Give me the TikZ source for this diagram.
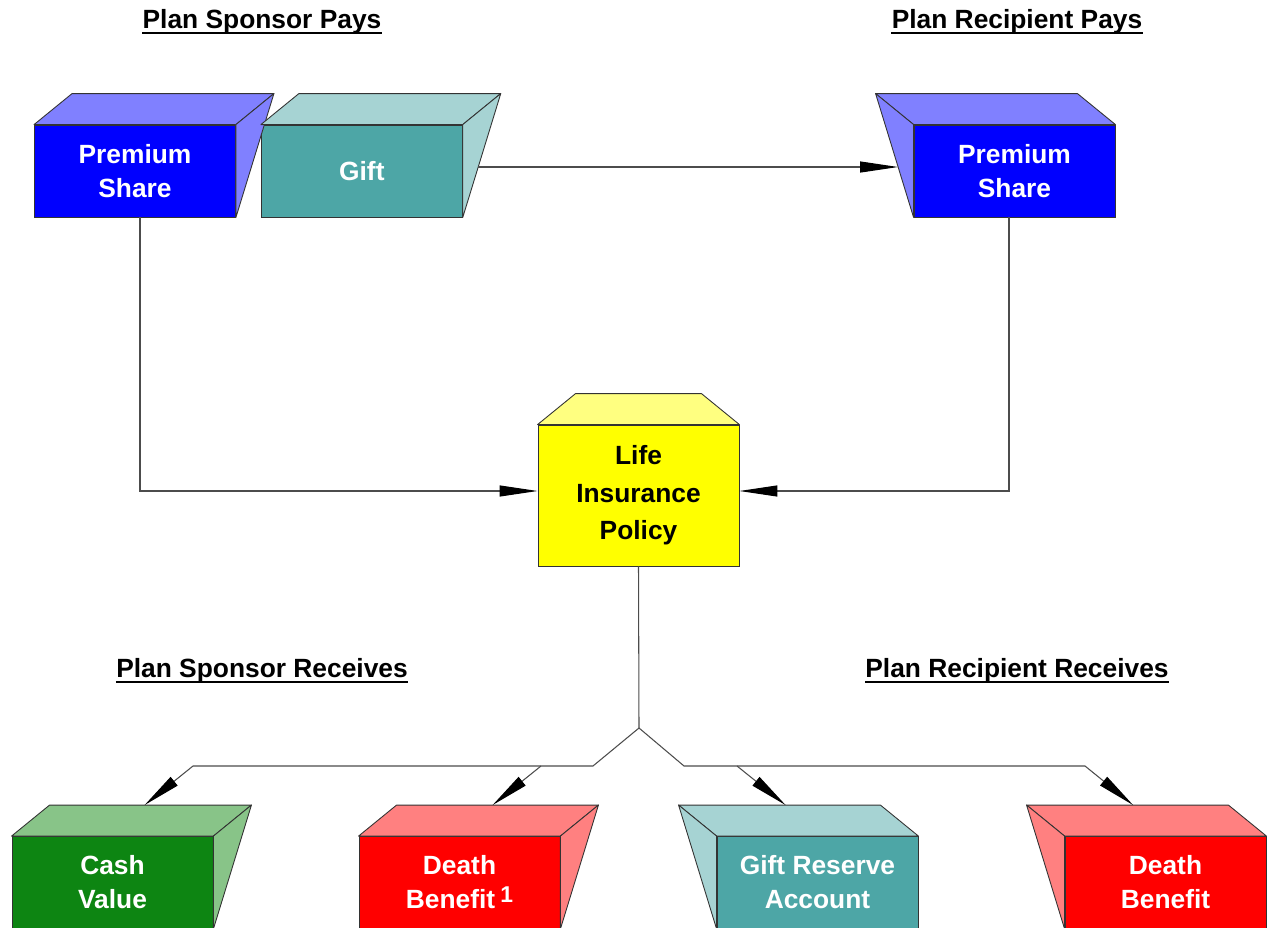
\documentclass[tikz,border=0pt]{standalone}
\usepackage{fontspec}
\setmainfont{Liberation Sans}
\usetikzlibrary{arrows.meta,calc,positioning}

\definecolor{bluefront}{HTML}{0000FF}
\definecolor{bluelight}{HTML}{8080FF}
\definecolor{tealfront}{HTML}{4DA6A6}
\definecolor{teallight}{HTML}{A6D3D3}
\definecolor{yellowfront}{HTML}{FFFF00}
\definecolor{yellowlight}{HTML}{FFFF80}
\definecolor{greenfront}{HTML}{0D8512}
\definecolor{greenlight}{HTML}{88C488}
\definecolor{redfront}{HTML}{FF0000}
\definecolor{redlight}{HTML}{FF8080}

\tikzstyle{block}=[rectangle,draw=black!80,line width=0.5pt,minimum width=4.02cm,minimum height=1.84cm,inner sep=0pt,align=center,text=white,font=\fontsize{15}{19.3}\selectfont\bfseries]
\tikzstyle{face}=[draw=black!80,line width=0.5pt,line join=round]
\tikzstyle{heading}=[anchor=base,inner sep=0pt,font=\fontsize{15}{18}\selectfont\bfseries]
\tikzstyle{underline}=[draw=black,line width=1.1pt]
\tikzstyle{link}=[draw=black!70,line width=0.6pt]
\tikzstyle{flow}=[link,-{Triangle[length=0.76cm,width=0.22cm,color=black]}]

\begin{document}
\begin{tikzpicture}[x=0.02cm,y=-0.02cm]
  \useasboundingbox (0,0) rectangle (1268,928);

  % headings
  \node [heading] (sppays) at (262,29) {Plan Sponsor Pays};
  \node [heading] (rppays) at (1017,29) {Plan Recipient Pays};
  \node [heading] (sprec) at (262,678) {Plan Sponsor Receives};
  \node [heading] (rprec) at (1017,678) {Plan Recipient Receives};
  \foreach \h in {sppays,rppays,sprec,rprec}
    \draw [underline] ([yshift=-0.08cm]\h.base west) -- ([yshift=-0.08cm]\h.base east);

  % front faces
  \node [block,fill=bluefront] (spshare) at (135,171) {Premium\\Share};
  \node [block,fill=tealfront] (gift) [right=0.5cm of spshare] {Gift};
  \node [block,fill=bluefront] (rpshare) at (1014.5,171) {Premium\\Share};
  \node [block,fill=yellowfront,text=black,minimum height=2.82cm,
         font=\fontsize{15}{21.3}\selectfont\bfseries] (policy) at (638.5,495.5) {Life\\Insurance\\Policy};
  \node [block,fill=greenfront] (cash) at (112.5,882.5) {Cash\\Value};
  \node [block,fill=redfront] (death1) at (459.5,882.5)
        {Death\\Benefit\hspace{3pt}\raisebox{3.4pt}{\fontsize{13}{13}\selectfont 1}};
  \node [block,fill=tealfront] (reserve) at (817.5,882.5) {Gift Reserve\\Account};
  \node [block,fill=redfront] (death2) at (1165.5,882.5) {Death\\Benefit};

  % top and side faces
  \foreach \b/\c in {spshare/bluelight,gift/teallight,cash/greenlight,death1/redlight}{
    \filldraw [face,fill=\c] (\b.north west) -- ++(38,-31) -- ($(\b.north east)+(38,-31)$) -- (\b.north east) -- cycle;
    \filldraw [face,fill=\c] (\b.north east) -- ++(38,-31) coordinate (\b-back) -- (\b.south east) -- cycle;
  }
  \foreach \b/\c in {rpshare/bluelight,reserve/teallight,death2/redlight}{
    \filldraw [face,fill=\c] (\b.north west) -- ++(-38,-31) -- ($(\b.north east)+(-38,-31)$) -- (\b.north east) -- cycle;
    \filldraw [face,fill=\c] (\b.north west) -- ++(-38,-31) coordinate (\b-back) -- (\b.south west) -- cycle;
  }
  \filldraw [face,fill=yellowlight] (policy.north west) -- ++(38,-31) -- ($(policy.north east)+(-38,-31)$) -- (policy.north east) -- cycle;

  % payments
  \draw [flow] ([xshift=0.1cm]spshare.south) |- ([yshift=0.09cm]policy.west);
  \draw [flow] ([xshift=-0.11cm]rpshare.south) |- ([yshift=0.09cm]policy.east);
  \draw [flow] ($(gift-back)!0.593!(gift.south east)$) -- ($(rpshare-back)!0.593!(rpshare.south west)$);

  % benefits
  \coordinate (fork) at (639,728);
  \coordinate (forkl) at (593,766);
  \coordinate (forkr) at (684,766);
  \coordinate (cashbr) at (193,766);
  \coordinate (death1br) at (541,766);
  \coordinate (reservebr) at (737,766);
  \coordinate (death2br) at (1085,766);
  \draw [link] (policy.south) -- (fork) -- (forkl) -- (cashbr);
  \draw [link] (fork) -- (forkr) -- (death2br);
  \draw [flow] (cashbr) -- ($(cash.north west)+(133,-31)$);
  \draw [flow] (death1br) -- ($(death1.north west)+(134,-31)$);
  \draw [flow] (reservebr) -- ($(reserve.north west)+(69,-31)$);
  \draw [flow] (death2br) -- ($(death2.north west)+(68.5,-31)$);
\end{tikzpicture}
\end{document}
